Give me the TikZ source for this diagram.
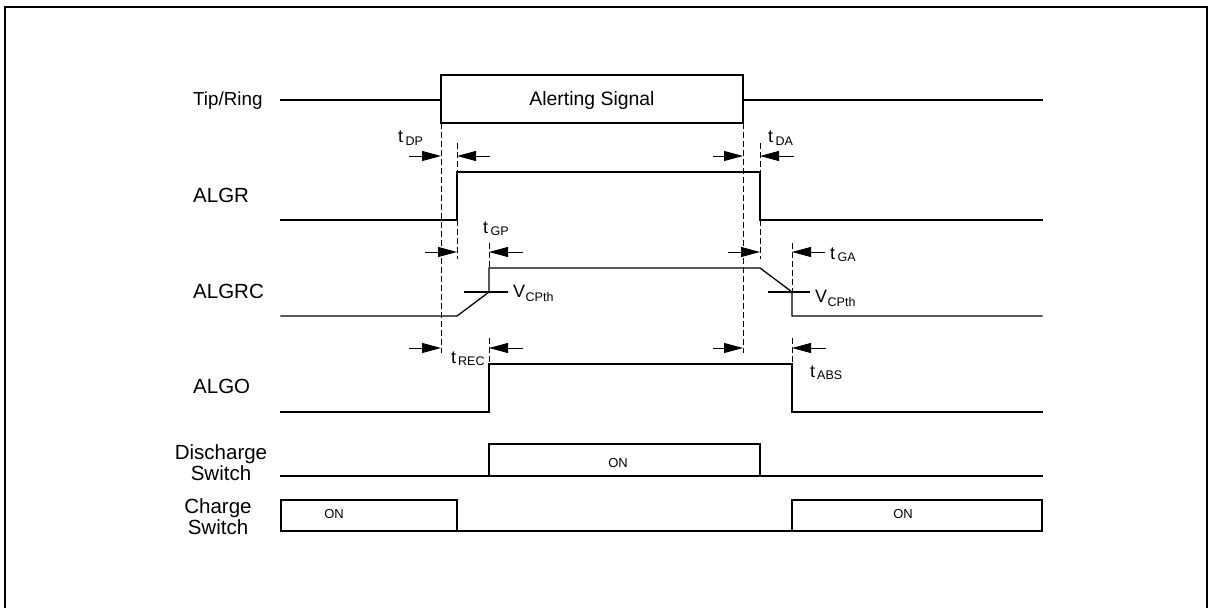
\documentclass[tikz,border=0pt]{standalone}
\usepackage{fontspec}
\setmainfont{Liberation Sans}
\usetikzlibrary{arrows.meta}
\newcommand{\tsub}[4]{#1\hspace{#4}\raisebox{-#3}{\fontsize{12.5}{12.5}\selectfont #2}}
\tikzset{
  sigline/.style={line width=1.3pt, line join=miter, line cap=rect},
  dashline/.style={line width=0.9pt, dash pattern=on 6pt off 3pt},
  tarrow/.style={line width=0.9pt, -{Triangle[length=19pt,width=10pt]}},
  lbl/.style={font=\fontsize{20.5}{20.5}\selectfont, inner sep=0pt, anchor=base west},
  twolbl/.style={font=\fontsize{20.5}{18}\selectfont, inner sep=0pt, align=center, anchor=base},
  tlbl/.style={font=\fontsize{18}{18}\selectfont, inner sep=0pt, anchor=base west},
  onlbl/.style={font=\fontsize{13}{13}\selectfont, inner sep=0pt}
}
\begin{document}
\begin{tikzpicture}[x=1pt,y=-1pt]
\useasboundingbox (0,0) rectangle (1211,608);
% frame
\draw[line width=2pt] (5,630) -- (5,7) -- (1207,7) -- (1207,630);

% labels
\node[lbl, font=\fontsize{18.8}{18.8}\selectfont] (ltr) at (193,105.7) {Tip/Ring};
\node[lbl] (lalgr) at (193,202.3) {ALGR};
\node[lbl] (lalgrc) at (193,298.3) {ALGRC};
\node[lbl] (lalgo) at (193,393.5) {ALGO};
\node[twolbl] (ldis) at (221,480) {Discharge\\Switch};
\node[twolbl] (lch) at (218,534) {Charge\\Switch};

% Tip/Ring
\draw[sigline] (281,100) -- (441,100);
\draw[sigline] (441,75) rectangle (743,123);
\draw[sigline] (743,100) -- (1042,100);
\node[font=\fontsize{19.4}{19.4}\selectfont, inner sep=0pt] (alert) at (592,100) {Alerting Signal};

% ALGR
\draw[sigline] (281,220) -- (457,220) -- (457,172) -- (760,172) -- (760,220) -- (1042,220);
% ALGRC
\draw[sigline] (281,316) -- (457,316) -- (489,292) -- (489,268) -- (760,268) -- (792,292) -- (792,316) -- (1042,316);
\draw[sigline] (465,292) -- (507,292);
\draw[sigline] (769,292) -- (809,292);
% ALGO
\draw[sigline] (281,412) -- (489,412) -- (489,364) -- (792,364) -- (792,412) -- (1042,412);
% Discharge switch
\draw[sigline] (281,476) -- (489,476);
\draw[sigline] (489,444) rectangle (760,476);
\draw[sigline] (760,476) -- (1042,476);
\node[onlbl] (on1) at (618,463) {ON};
% Charge switch
\draw[sigline] (281,500) rectangle (457,531);
\draw[sigline] (457,531) -- (792,531);
\draw[sigline] (792,500) rectangle (1042,531);
\node[onlbl] (on2) at (334,514) {ON};
\node[onlbl] (on3) at (903,514) {ON};

% dashed guides
\draw[dashline] (441,123) -- (441,353);
\draw[dashline] (743,123) -- (743,353);
\draw[dashline] (457,143) -- (457,172);
\draw[dashline] (457,220) -- (457,259);
\draw[dashline] (760,143) -- (760,172);
\draw[dashline] (760,220) -- (760,259);
\draw[dashline] (489,243) -- (489,268);
\draw[dashline] (489,338) -- (489,364);
\draw[dashline] (792,243) -- (792,292);
\draw[dashline] (792,338) -- (792,364);

% timing arrows
\draw[tarrow] (409,156) -- (441,156);
\draw[tarrow] (490,156) -- (457,156);
\draw[tarrow] (713,156) -- (743,156);
\draw[tarrow] (794,156) -- (760,156);
\draw[tarrow] (425,252) -- (457,252);
\draw[tarrow] (523,252) -- (489,252);
\draw[tarrow] (728,252) -- (760,252);
\draw[tarrow] (825,252) -- (792,252);
\draw[tarrow] (409,348) -- (441,348);
\draw[tarrow] (523,348) -- (489,348);
\draw[tarrow] (713,348) -- (743,348);
\draw[tarrow] (826,348) -- (792,348);

% timing labels
\node[tlbl] (tdp) at (398,142) {\tsub{t}{DP}{3pt}{2.5pt}};
\node[tlbl] (tda) at (768,142) {\tsub{t}{DA}{3pt}{2.5pt}};
\node[tlbl] (tgp) at (483,233) {\tsub{t}{GP}{2pt}{2.5pt}};
\node[tlbl] (tga) at (830,259) {\tsub{t}{GA}{2pt}{2.5pt}};
\node[tlbl] (vc1) at (513,297) {\tsub{V}{CPth}{4pt}{0.5pt}};
\node[tlbl] (vc2) at (815,302) {\tsub{V}{CPth}{4pt}{0.5pt}};
\node[tlbl] (trec) at (451,363) {\tsub{t}{REC}{2.5pt}{2pt}};
\node[tlbl] (tabs) at (810,377) {\tsub{t}{ABS}{2.5pt}{2pt}};
\end{tikzpicture}
\end{document}
